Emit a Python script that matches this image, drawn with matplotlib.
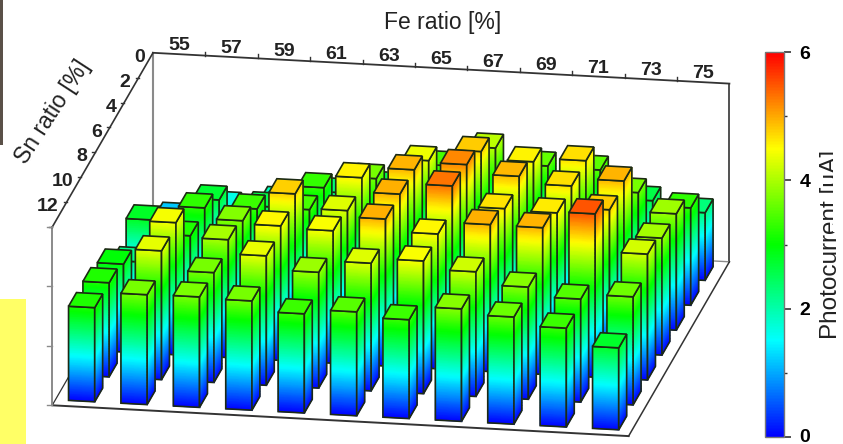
import numpy as np
import matplotlib
matplotlib.use('Agg')
import matplotlib.pyplot as plt
from matplotlib.cm import ScalarMappable
from matplotlib.colors import LinearSegmentedColormap, Normalize
from matplotlib.patches import Polygon, Rectangle
from matplotlib.transforms import Affine2D

plt.rcParams['font.family'] = ['Liberation Sans', 'DejaVu Sans']

fe_labels = [55, 57, 59, 61, 63, 65, 67, 69, 71, 73, 75]
sn_labels = [0, 2, 4, 6, 8, 10, 12]
cbar_ticks = [0, 2, 4, 6]

# photocurrent per Sn row, one value per Fe column
sn0 = [1.18, 1.65, 1.90, 2.30, 2.60, 3.40, 4.08, 3.57, 3.53, 2.59, 2.28]
sn2 = [1.70, 2.70, 2.56, 3.30, 3.70, 4.40, 4.80, 4.55, 4.68, 3.70, 3.28]
sn4 = [2.77, 3.27, 3.33, 3.40, 4.57, 4.93, 5.20, 4.90, 4.67, 4.93, 3.92]
sn6 = [2.20, 3.17, 3.77, 4.77, 4.30, 4.95, 5.32, 4.65, 4.60, 4.80, 3.94]
sn8 = [2.96, 4.45, 3.97, 4.53, 4.46, 4.95, 4.54, 4.95, 4.94, 5.50, 4.24]
sn10 = [3.17, 4.34, 3.70, 4.36, 3.90, 4.30, 4.47, 4.20, 3.78, 3.47, 3.64]
sn12 = [3.17, 3.70, 3.72, 3.68, 3.34, 3.50, 3.33, 3.79, 3.61, 3.33, 2.76]
current = [sn0, sn2, sn4, sn6, sn8, sn10, sn12]

cmap = LinearSegmentedColormap.from_list('rainbow5', ['#0000ff', '#00ffff', '#00ff00', '#ffff00', '#ff0000'])
norm = Normalize(0, 6)


def project(u, v, z):
    # oblique view: u along Fe, v along Sn (back to front), z up, result in image pixels
    u, v, z = np.asarray(u, float), np.asarray(v, float), np.asarray(z, float)
    return 153 + 52.4 * u - 14.4 * v, 231 + 2.8 * u + 24.9 * v - 29.7 * z


def draw_face(ax, u, v, h, zo):
    # u, v are the two ends of a vertical face, coloured by height
    zz = np.linspace(0, h, 40)
    xa, ya = project(u[0], v[0], zz)
    xb, yb = project(u[1], v[1], zz)
    X = np.column_stack([xa, xb])
    Y = np.column_stack([ya, yb])
    C = np.column_stack([zz, zz])
    ax.pcolormesh(X, Y, C, cmap=cmap, norm=norm, shading='gouraud', zorder=zo)
    corners = [project(u[0], v[0], 0), project(u[1], v[1], 0), project(u[1], v[1], h), project(u[0], v[0], h)]
    ax.add_patch(Polygon(corners, closed=True, fill=False, edgecolor='#1c2a14', linewidth=1.2, zorder=zo + 0.1))


def draw_bar(ax, c, r, h, zo):
    ul, ur = c + 0.25, c + 0.75
    vb, vf = r + 0.225, r + 0.775
    draw_face(ax, (ul, ur), (vf, vf), h, zo)
    draw_face(ax, (ur, ur), (vf, vb), h, zo + 0.2)
    top = [project(ul, vf, h), project(ur, vf, h), project(ur, vb, h), project(ul, vb, h)]
    ax.add_patch(Polygon(top, closed=True, facecolor=cmap(norm(h)), edgecolor='#1c2a14', linewidth=1.2, zorder=zo + 0.4))


def line3(ax, a, b, color, lw=1.2, zo=2):
    xa, ya = project(*a)
    xb, yb = project(*b)
    ax.plot([xa, xb], [ya, yb], color=color, linewidth=lw, zorder=zo, solid_capstyle='projecting')


fig = plt.figure(figsize=(8.43, 4.44), dpi=100)
ax = fig.add_axes([0, 0, 1, 1])
ax.set_xlim(0, 843)
ax.set_ylim(444, 0)
ax.axis('off')
ax.set_autoscale_on(False)

# bits of the neighbouring page left in the scan
ax.add_patch(Rectangle((0, 0), 2.5, 145, facecolor='#5a5048', edgecolor='none'))
ax.add_patch(Rectangle((0, 299), 26, 145, facecolor='#ffff66', edgecolor='none'))

n_fe = len(fe_labels)
n_sn = len(sn_labels)
z_top = 6
dark = '#333333'
grey = '#8a8a8a'

# box
line3(ax, (0, 0, 0), (0, 0, z_top), grey, 1.5)
line3(ax, (0, 0, z_top), (n_fe, 0, z_top), dark, 1.3)
line3(ax, (n_fe, 0, z_top), (n_fe, 0, 0), dark, 1.2)
line3(ax, (0, 0, 0), (n_fe, 0, 0), grey, 1.0)
line3(ax, (0, 0, 0), (0, n_sn, 0), dark, 0.9)
line3(ax, (0, n_sn, 0), (n_fe, n_sn, 0), dark, 1.4)
line3(ax, (n_fe, n_sn, 0), (n_fe, 0, 0), dark, 1.1)
line3(ax, (0, 0, z_top), (0, n_sn, z_top), dark, 1.2)
line3(ax, (0, n_sn, z_top), (0, n_sn, 0), grey, 1.4)

# ticks along the edges
for i in range(1, n_fe):
    x, y = project(i, 0, z_top)
    ax.plot([x, x], [y, y - 4], color=dark, linewidth=1)
for j in range(1, n_sn + 1):
    x, y = project(0, j, z_top)
    ax.plot([x, x - 3], [y, y], color=dark, linewidth=1)
for k in range(0, z_top + 1, 2):
    x, y = project(0, n_sn, k)
    ax.plot([x, x - 5], [y, y], color=grey, linewidth=1)

for i, lab in enumerate(fe_labels):
    x, y = project(i + 0.5, 0, z_top)
    ax.text(x, y - 8.5, str(lab), ha='center', va='center', fontsize=14, fontweight='bold', color='#222222')
for j, lab in enumerate(sn_labels):
    x, y = project(0, j, z_top)
    ax.text(x - 8, y + 4.5, str(lab), ha='right', va='center', fontsize=14, fontweight='bold', color='#222222')

ax.text(443, 23, 'Fe ratio [%]', ha='center', va='center', fontsize=16.5, color='#222222')
ax.text(53, 112, 'Sn ratio [%]', ha='center', va='center', fontsize=16.5, rotation=57, color='#222222')

# back row first, left to right inside a row
zo = 10
for r, row in enumerate(current):
    for c, h in enumerate(row):
        draw_bar(ax, c, r, h, zo)
        zo += 1

# colour bar
cax = fig.add_axes([765 / 843, 1 - 437 / 444, 19 / 843, 385 / 444])
cb = fig.colorbar(ScalarMappable(norm=norm, cmap=cmap), cax=cax, ticks=cbar_ticks)
cb.ax.set_yticks([1, 3, 5], minor=True)
cb.ax.tick_params(which='major', length=5, width=1.2, labelsize=14, pad=6, color=dark)
cb.ax.tick_params(which='minor', length=2.5, width=1, color=dark)
for t in cb.ax.get_yticklabels():
    t.set_fontweight('bold')
# the 0 sits right on the bottom edge, lift it so it stays whole
zero_label = cb.ax.get_yticklabels()[0]
zero_label.set_transform(zero_label.get_transform() + Affine2D().translate(0, 2))
cb.outline.set_edgecolor('#777777')
cb.outline.set_linewidth(1)

# axis title of the colour bar, its baseline side is cut off in the source
ax.text(837.5, 244, 'Photocurrent [\u03bcA]', rotation=90, ha='center', va='baseline', fontsize=17.5, color='#222222',
        rotation_mode='anchor', zorder=500)
ax.add_patch(Rectangle((833, 130), 10, 102, facecolor='white', edgecolor='none', zorder=501))

fig.savefig('out.png', dpi=100)
